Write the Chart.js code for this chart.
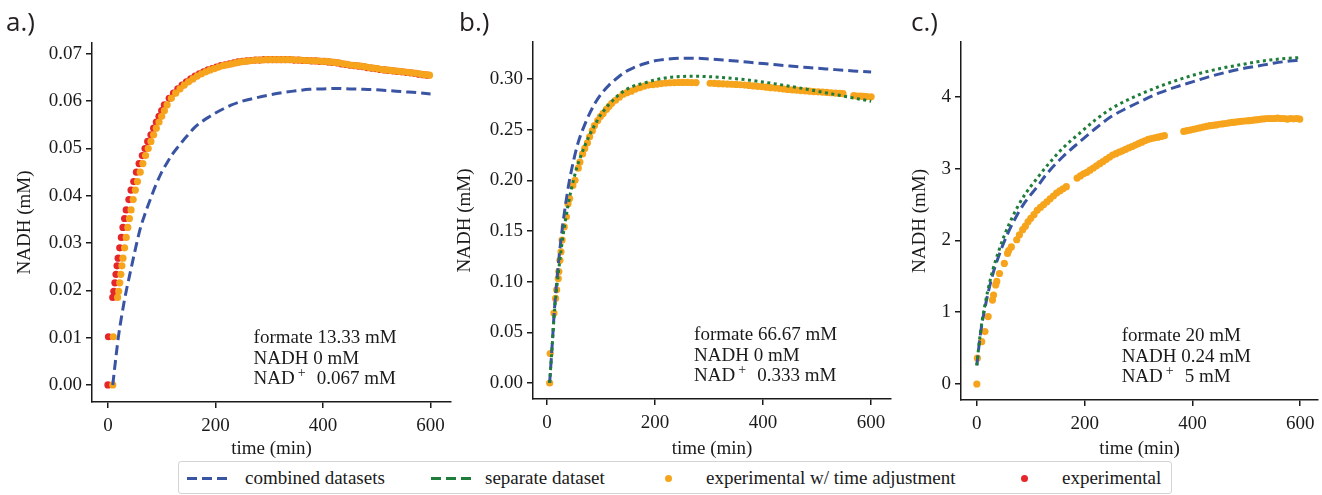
<!DOCTYPE html>
<html>
<head>
<meta charset="utf-8">
<script src="https://cdn.jsdelivr.net/npm/chart.js@4.4.1/dist/chart.umd.min.js"></script>
<style>
  body { margin: 0; background: #fff; width: 1322px; height: 495px; overflow: hidden; position: relative; font-family: "Liberation Serif", serif; color: #1a1a1a; }
  canvas { position: absolute; top: 0; }
  .tag { position: absolute; font-family: "Open Sans", sans-serif; font-size: 26px; line-height: 26px; color: #231f20; }
  #legend { position: absolute; left: 178px; top: 461px; width: 992px; height: 31px; border: 1px solid #d4d4d4; border-radius: 3px; }
  #legend .t { position: absolute; top: 0; line-height: 31px; font-size: 19px; white-space: nowrap; }
  #legend .dash { position: absolute; top: 15px; width: 42px; height: 3px; }
  #legend .dot { position: absolute; top: 13px; width: 7px; height: 7px; border-radius: 50%; }
</style>
</head>
<body>
<canvas id="chartA" width="455" height="460" style="left:0px"></canvas>
<canvas id="chartB" width="455" height="460" style="left:440px"></canvas>
<canvas id="chartC" width="427" height="460" style="left:895px"></canvas>
<div class="tag" style="left:6px;top:8px">a.)</div>
<div class="tag" style="left:459px;top:8px">b.)</div>
<div class="tag" style="left:911px;top:8px">c.)</div>
<div id="legend">
  <span class="dash" style="left:8px;background:repeating-linear-gradient(to right,#3a54a4 0 10px,transparent 10px 15px)"></span>
  <span class="t" style="left:66px">combined datasets</span>
  <span class="dash" style="left:252px;background:repeating-linear-gradient(to right,#1e7d3a 0 10px,transparent 10px 15px)"></span>
  <span class="t" style="left:306px">separate dataset</span>
  <span class="dot" style="left:486px;background:#f7a41d"></span>
  <span class="t" style="left:527px">experimental w/ time adjustment</span>
  <span class="dot" style="left:842px;background:#e5262b"></span>
  <span class="t" style="left:883px">experimental</span>
</div>
<script>
// ---- panel a: formate 13.33 mM, NADH 0 mM, NAD+ 0.067 mM ----
const aTimeExp = [0, 1, 9, 11, 13, 15, 17, 19, 22, 25, 28, 31, 34, 39, 43, 48, 53, 58, 64, 69, 74, 80, 85, 90, 95, 100, 105,
  114, 122, 130, 138, 146, 154, 162, 170, 178, 186, 194, 202, 210, 218, 226, 234, 242, 250, 258, 266, 274, 282, 290, 298,
  306, 314, 322, 330, 338, 346, 354, 362, 370, 378, 386, 394, 402, 410, 418, 426, 434, 442, 450, 458, 466, 474, 482, 490,
  498, 506, 514, 522, 530, 538, 546, 554, 562, 570, 578, 586, 594];
const aTimeAdj = [9, 10, 18, 20, 22, 24, 26, 28, 31, 34, 37, 40, 43, 47, 51, 55, 60, 65, 70, 75, 80, 85, 90, 95, 100, 105, 110,
  118, 126, 134, 142, 150, 158, 166, 174, 182, 190, 198, 206, 214, 222, 230, 238, 246, 254, 262, 270, 278, 286, 294, 302,
  310, 318, 326, 334, 342, 350, 358, 366, 374, 382, 390, 398, 406, 414, 422, 430, 438, 446, 454, 462, 470, 478, 486, 494,
  502, 510, 518, 526, 534, 542, 550, 558, 566, 574, 582, 590, 598];
const aNadh = [0, 0.0102, 0.0185, 0.0198, 0.0216, 0.0234, 0.0252, 0.0268, 0.0290, 0.0312, 0.0333, 0.0352, 0.0370, 0.0392,
  0.0412, 0.0430, 0.0450, 0.0468, 0.0485, 0.0500, 0.0515, 0.0529, 0.0543, 0.0556, 0.0568, 0.0580, 0.0592,
  0.0606, 0.0617, 0.0626, 0.0634, 0.0641, 0.0647, 0.0653, 0.0658, 0.0662, 0.0666, 0.0669, 0.0672, 0.0675, 0.0677, 0.0679,
  0.0681, 0.0683, 0.0684, 0.0685, 0.0686, 0.0687, 0.0687, 0.0688, 0.0688, 0.0688, 0.0688, 0.0688, 0.0688, 0.0688, 0.0687,
  0.0687, 0.0686, 0.0686, 0.0685, 0.0685, 0.0684, 0.0684, 0.0683, 0.0682, 0.0681, 0.0679, 0.0678, 0.0676, 0.0675, 0.0674,
  0.0673, 0.0671, 0.0670, 0.0669, 0.0667, 0.0666, 0.0665, 0.0664, 0.0663, 0.0662, 0.0661, 0.0660, 0.0659, 0.0657, 0.0656, 0.0655];
const aFitTime = [9, 15, 20, 25, 30, 35, 40, 50, 60, 70, 80, 90, 100, 110, 120, 130, 140, 150, 160, 170, 180, 190, 200, 215,
  230, 250, 275, 300, 325, 350, 375, 400, 425, 450, 475, 500, 525, 550, 575, 600];
const aFitCombined = [0, 0.0060, 0.0106, 0.0142, 0.0175, 0.0204, 0.0230, 0.0282, 0.0330, 0.0365, 0.0396, 0.0425, 0.0450,
  0.0470, 0.0488, 0.0503, 0.0517, 0.0530, 0.0543, 0.0553, 0.0561, 0.0568, 0.0575, 0.0584, 0.0592, 0.0600, 0.0607, 0.0613,
  0.0618, 0.0622, 0.0625, 0.0626, 0.0627, 0.0626, 0.0625, 0.0624, 0.0622, 0.0620, 0.0618, 0.0615];

// ---- panel b: formate 66.67 mM, NADH 0 mM, NAD+ 0.333 mM ----
const bTime = [5, 6, 13, 16, 18, 21, 22, 24, 26, 28, 32, 36, 39, 42, 48, 52, 58, 61, 66, 70, 75, 79, 84, 88, 94, 99, 104,
  110, 115, 120, 127, 134, 141, 148, 156, 164, 172, 180, 188, 196, 204, 212, 220, 228, 236, 244, 252, 260, 268, 276,
  302, 310, 318, 326, 334, 342, 350, 358, 366, 374, 382, 390, 398, 406, 414, 422, 430, 438, 446, 454, 462, 470, 478, 486,
  494, 502, 510, 518, 526, 534, 542, 548, 568, 574, 580, 586, 592, 600];
const bNadh = [0, 0.029, 0.069, 0.0835, 0.092, 0.103, 0.110, 0.121, 0.1295, 0.141, 0.154, 0.164, 0.177, 0.182, 0.195, 0.200,
  0.212, 0.218, 0.226, 0.2315, 0.237, 0.243, 0.249, 0.254, 0.259, 0.263, 0.266, 0.270, 0.273, 0.276, 0.279, 0.282, 0.285,
  0.2865, 0.288, 0.290, 0.2915, 0.293, 0.294, 0.2945, 0.295, 0.2955, 0.296, 0.2963, 0.2965, 0.2966, 0.2966, 0.2966, 0.2965,
  0.2965, 0.2958, 0.2956, 0.2954, 0.2952, 0.2950, 0.2948, 0.2946, 0.2943, 0.2940, 0.2936, 0.2932, 0.2928, 0.2924, 0.2919,
  0.2914, 0.2910, 0.2905, 0.2901, 0.2897, 0.2893, 0.2890, 0.2886, 0.2883, 0.2880, 0.2876, 0.2873, 0.2870, 0.2867, 0.2864,
  0.2861, 0.2858, 0.2855, 0.2835, 0.2832, 0.2830, 0.2828, 0.2826, 0.2824];
const bFitTime = [5, 10, 13, 16, 20, 25, 30, 35, 40, 45, 50, 55, 60, 70, 80, 90, 100, 115, 130, 145, 160, 180, 200, 225, 250,
  275, 300, 325, 350, 375, 400, 425, 450, 475, 500, 525, 550, 575, 600];
const bFitCombined = [0, 0.040, 0.066, 0.087, 0.111, 0.137, 0.159, 0.178, 0.195, 0.209, 0.221, 0.232, 0.241, 0.255, 0.267,
  0.277, 0.285, 0.294, 0.301, 0.307, 0.311, 0.315, 0.318, 0.3198, 0.3205, 0.3205, 0.3198, 0.3188, 0.3177, 0.3165, 0.3152,
  0.3140, 0.3128, 0.3117, 0.3106, 0.3096, 0.3086, 0.3077, 0.3068];
const bFitSeparate = [0, 0.039, 0.064, 0.083, 0.103, 0.126, 0.146, 0.163, 0.178, 0.191, 0.202, 0.212, 0.220, 0.234, 0.246,
  0.256, 0.265, 0.275, 0.283, 0.289, 0.293, 0.296, 0.299, 0.3015, 0.3025, 0.3027, 0.3023, 0.3015, 0.3003, 0.2988, 0.2970,
  0.2950, 0.2928, 0.2905, 0.2880, 0.2855, 0.2830, 0.2805, 0.2780];

// ---- panel c: formate 20 mM, NADH 0.24 mM, NAD+ 5 mM ----
const cTime = [0, 1, 9, 15, 21, 29, 31, 35, 37, 42, 51, 57, 59, 64, 74, 79, 85, 90, 95, 100, 106, 112, 118, 124, 130, 136,
  142, 148, 154, 160, 166, 186, 192, 198, 204, 210, 216, 222, 228, 234, 240, 246, 252, 258, 264, 270, 276, 282, 288, 294,
  300, 306, 312, 318, 324, 330, 336, 342, 348, 384, 390, 396, 402, 408, 414, 420, 426, 432, 438, 444, 450, 456, 462, 468,
  474, 480, 486, 492, 498, 504, 510, 516, 522, 528, 534, 540, 546, 552, 558, 564, 570, 576, 582, 588, 594, 599];
const cNadh = [0, 0.36, 0.59, 0.73, 0.94, 1.17, 1.24, 1.38, 1.43, 1.54, 1.68, 1.82, 1.86, 1.91, 2.01, 2.08, 2.15, 2.20, 2.26,
  2.31, 2.36, 2.42, 2.46, 2.50, 2.54, 2.58, 2.62, 2.66, 2.69, 2.72, 2.75, 2.87, 2.90, 2.93, 2.95, 2.98, 3.01, 3.04, 3.07,
  3.10, 3.13, 3.16, 3.19, 3.21, 3.23, 3.25, 3.27, 3.29, 3.31, 3.33, 3.35, 3.37, 3.39, 3.41, 3.42, 3.43, 3.44, 3.45, 3.46,
  3.52, 3.53, 3.54, 3.55, 3.56, 3.57, 3.58, 3.59, 3.60, 3.605, 3.61, 3.62, 3.625, 3.63, 3.64, 3.645, 3.65, 3.655, 3.66,
  3.665, 3.67, 3.675, 3.68, 3.685, 3.69, 3.695, 3.70, 3.70, 3.70, 3.705, 3.70, 3.70, 3.69, 3.70, 3.695, 3.70, 3.69];
const cFitTime = [0, 5, 10, 15, 20, 30, 40, 50, 60, 75, 90, 110, 130, 160, 190, 220, 250, 280, 310, 340, 370, 400, 430, 460,
  490, 520, 550, 580, 600];
const cFitCombined = [0.26, 0.60, 0.86, 1.06, 1.24, 1.54, 1.77, 1.97, 2.14, 2.36, 2.54, 2.73, 2.93, 3.17, 3.37, 3.56, 3.73,
  3.85, 3.96, 4.06, 4.14, 4.21, 4.28, 4.34, 4.39, 4.43, 4.47, 4.50, 4.51];
const cFitSeparate = [0.26, 0.62, 0.89, 1.10, 1.29, 1.60, 1.84, 2.05, 2.23, 2.46, 2.65, 2.85, 3.04, 3.29, 3.49, 3.68, 3.84,
  3.96, 4.06, 4.15, 4.23, 4.30, 4.36, 4.41, 4.45, 4.49, 4.52, 4.54, 4.55];

// ---- ticks and notes ----
const xTicks = [0, 200, 400, 600];
const aYTicks = [0, 0.01, 0.02, 0.03, 0.04, 0.05, 0.06, 0.07];
const bYTicks = [0, 0.05, 0.10, 0.15, 0.20, 0.25, 0.30];
const cYTicks = [0, 1, 2, 3, 4];
const aNote = ["13.33", "0", "0.067"];
const bNote = ["66.67", "0", "0.333"];
const cNote = ["20", "0.24", "5"];

const BLUE = "#3a54a4", GREEN = "#1e7d3a", ORANGE = "#f7a41d", RED = "#e5262b", INK = "#1a1a1a";
const FONT = { family: "Liberation Serif", size: 19 };

const pts = (xs, ys) => xs.map((x, i) => ({ x: x, y: ys[i] }));

function lineSet(data, color, dash) {
  return {
    data: data, showLine: true, borderColor: color, borderWidth: 3, borderDash: dash,
    borderCapStyle: "butt", pointRadius: 0, cubicInterpolationMode: "monotone",
  };
}

function dotSet(data, color) {
  return { data: data, showLine: false, pointRadius: 3.6, backgroundColor: color, borderWidth: 0 };
}

// text box in the lower middle of each panel
const notePlugin = {
  id: "note",
  afterDatasetsDraw(chart, args, opts) {
    if (!opts.values) return;
    const { ctx, chartArea: ca } = chart;
    const x = ca.left + ca.width * 0.45;
    ctx.save();
    ctx.fillStyle = INK;
    ctx.textBaseline = "middle";
    ctx.font = '19px "Liberation Serif"';
    ctx.fillText("formate " + opts.values[0] + " mM", x, ca.bottom - 64);
    ctx.fillText("NADH " + opts.values[1] + " mM", x, ca.bottom - 43);
    ctx.fillText("NAD", x, ca.bottom - 23);
    let w = ctx.measureText("NAD").width;
    ctx.font = '14px "Liberation Serif"';
    ctx.fillText("+", x + w + 3, ca.bottom - 29);
    ctx.font = '19px "Liberation Serif"';
    ctx.fillText(opts.values[2] + " mM", x + w + 22, ca.bottom - 23);
    ctx.restore();
  },
};

function makeChart(id, p) {
  return new Chart(document.getElementById(id), {
    type: "scatter",
    data: { datasets: p.datasets },
    plugins: [notePlugin],
    options: {
      responsive: false,
      animation: false,
      events: [],
      layout: { padding: { top: p.top, left: 0, right: p.right, bottom: 0 } },
      plugins: { legend: { display: false }, tooltip: { enabled: false }, note: { values: p.note } },
      scales: {
        x: {
          type: "linear", min: p.xMin, max: p.xMax,
          afterBuildTicks: (s) => { s.ticks = xTicks.map((v) => ({ value: v })); },
          afterFit: (s) => { s.height = p.xHeight; },
          ticks: { font: FONT, color: INK, padding: 7, maxRotation: 0, callback: (v) => String(v) },
          grid: { drawOnChartArea: false, drawTicks: true, tickLength: 6, color: INK, lineWidth: 1.5 },
          border: { display: true, color: INK, width: 1.5 },
          title: { display: true, text: "time (min)", font: FONT, color: INK, padding: { top: 0, bottom: 0 } },
        },
        y: {
          type: "linear", min: p.yMin, max: p.yMax,
          afterBuildTicks: (s) => { s.ticks = p.yTicks.map((v) => ({ value: v })); },
          afterFit: (s) => { s.width = p.yWidth; },
          ticks: { font: FONT, color: INK, padding: 4, callback: (v) => v.toFixed(p.digits) },
          grid: { drawOnChartArea: false, drawTicks: true, tickLength: 6, color: INK, lineWidth: 1.5 },
          border: { display: true, color: INK, width: 1.5 },
          title: { display: true, text: "NADH (mM)", font: FONT, color: INK, padding: { top: 14, bottom: 0 } },
        },
      },
    },
  });
}

makeChart("chartA", {
  datasets: [
    lineSet(pts(aFitTime, aFitCombined), BLUE, [10, 5]),
    dotSet(pts(aTimeAdj, aNadh), ORANGE),
    dotSet(pts(aTimeExp, aNadh), RED),
  ],
  xMin: -29.6, xMax: 638, yMin: -0.0036, yMax: 0.0723, yTicks: aYTicks, digits: 2,
  top: 43, right: 2, yWidth: 92, xHeight: 58, note: aNote,
});

makeChart("chartB", {
  datasets: [
    lineSet(pts(bFitTime, bFitSeparate), GREEN, [3, 3.5]),
    lineSet(pts(bFitTime, bFitCombined), BLUE, [10, 5]),
    dotSet(pts(bTime, bNadh), ORANGE),
  ],
  xMin: -25.8, xMax: 636.8, yMin: -0.0158, yMax: 0.3365, yTicks: bYTicks, digits: 2,
  top: 42, right: 2, yWidth: 93, xHeight: 61, note: bNote,
});

makeChart("chartC", {
  datasets: [
    lineSet(pts(cFitTime, cFitSeparate), GREEN, [3, 3.5]),
    lineSet(pts(cFitTime, cFitCombined), BLUE, [10, 5]),
    dotSet(pts(cTime, cNadh), ORANGE),
  ],
  xMin: -29.4, xMax: 633, yMin: -0.223, yMax: 4.766, yTicks: cYTicks, digits: 0,
  top: 42, right: 0, yWidth: 66, xHeight: 60, note: cNote,
});
</script>
</body>
</html>
